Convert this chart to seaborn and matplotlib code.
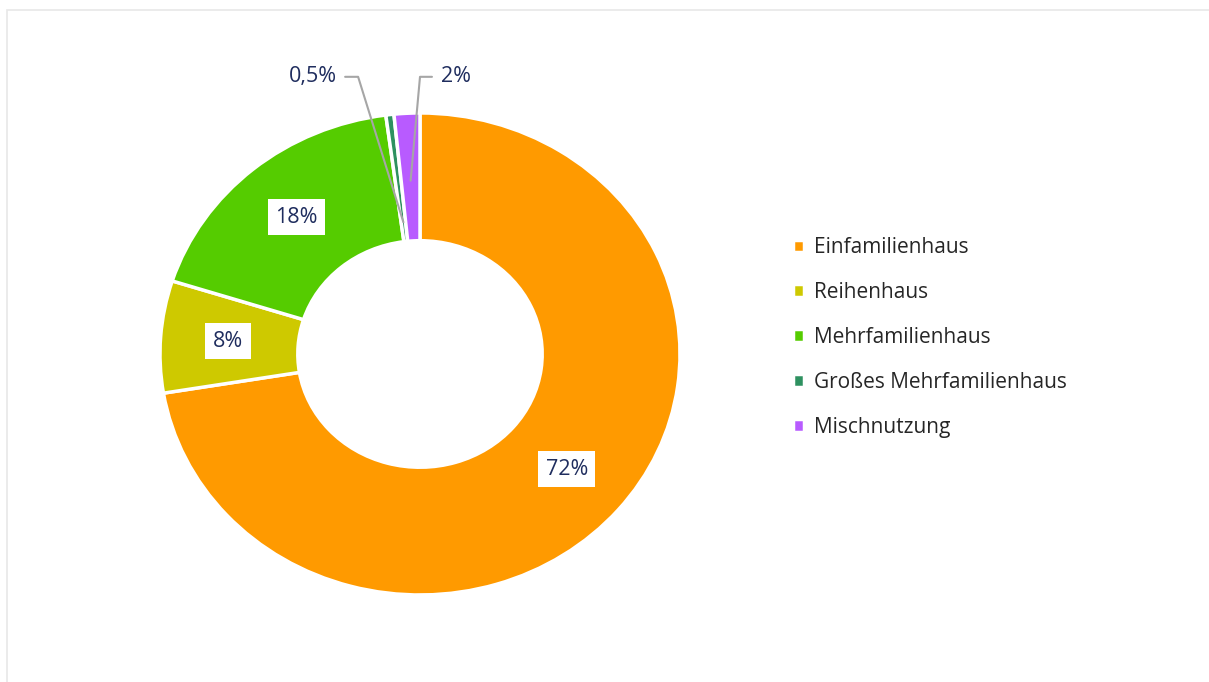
import matplotlib

matplotlib.use("Agg")
import matplotlib.pyplot as plt
import numpy as np
import seaborn as sns
from matplotlib.patches import Rectangle

# data
CATEGORIES = ["Einfamilienhaus", "Reihenhaus", "Mehrfamilienhaus",
              "Großes Mehrfamilienhaus", "Mischnutzung"]
SHARES = [72.4, 7.5, 18.0, 0.5, 1.6]
LABELS = ["72%", "8%", "18%", "0,5%", "2%"]
COLORS = ["#FF9A00", "#CEC900", "#55CC00", "#2E9160", "#B85BFF"]

TEXT_DARK = "#1F2D5E"

sns.set_theme(style="white")
plt.rcParams["font.family"] = ["Open Sans", "DejaVu Sans"]

fig = plt.figure(figsize=(12.09, 6.82), dpi=100)
fig.patch.set_facecolor("white")
# faint frame like the slide screenshot
fig.add_artist(Rectangle((7 / 1209, -0.01), 1.0, 1 - 10 / 682 + 0.01,
                         transform=fig.transFigure, fill=False,
                         edgecolor="#E8E8E8", lw=1.2))

# axes stretched a bit wider than tall, as in the reference
ax = fig.add_axes([82 / 1209, 0.0216, 676 / 1209, 626.6 / 682])
wedges, _ = ax.pie(
    SHARES, colors=COLORS, startangle=90, counterclock=False, radius=1.0,
    wedgeprops=dict(width=0.53, edgecolor="white", linewidth=2.5),
)
ax.set_aspect("auto")
ax.set_xlim(-1.3, 1.3)
ax.set_ylim(-1.3, 1.3)
ax.axis("off")

box = dict(boxstyle="square,pad=0.35", facecolor="white", edgecolor="none")
big = [0, 1, 2]
for i in big:
    w = wedges[i]
    mid = np.deg2rad((w.theta1 + w.theta2) / 2)
    ax.text(0.74 * np.cos(mid), 0.74 * np.sin(mid), LABELS[i],
            ha="center", va="center", fontsize=15.5, color=TEXT_DARK, bbox=box)

# small slices: labels above the ring with leader lines
small = {3: dict(r=0.55, knee=-0.238, line_end=-0.288, tx=-0.32, ha="right"),
         4: dict(r=0.72, knee=0.0, line_end=0.046, tx=0.082, ha="left")}
label_y = 1.15
for i, cfg in small.items():
    w = wedges[i]
    mid = np.deg2rad((w.theta1 + w.theta2) / 2)
    px, py = cfg["r"] * np.cos(mid), cfg["r"] * np.sin(mid)
    ax.plot([px, cfg["knee"], cfg["line_end"]], [py, label_y, label_y],
            color="#A6A6A6", lw=1.5, clip_on=False)
    ax.text(cfg["tx"], label_y, LABELS[i], ha=cfg["ha"], va="center",
            fontsize=15.5, color=TEXT_DARK)

fig.legend(wedges, CATEGORIES, loc="center left",
           bbox_to_anchor=(0.64, 0.505), frameon=False,
           handlelength=0.55, handleheight=0.55, handletextpad=0.5,
           labelspacing=1.15, fontsize=15, labelcolor="#262626")

fig.savefig("out.png", dpi=100)
